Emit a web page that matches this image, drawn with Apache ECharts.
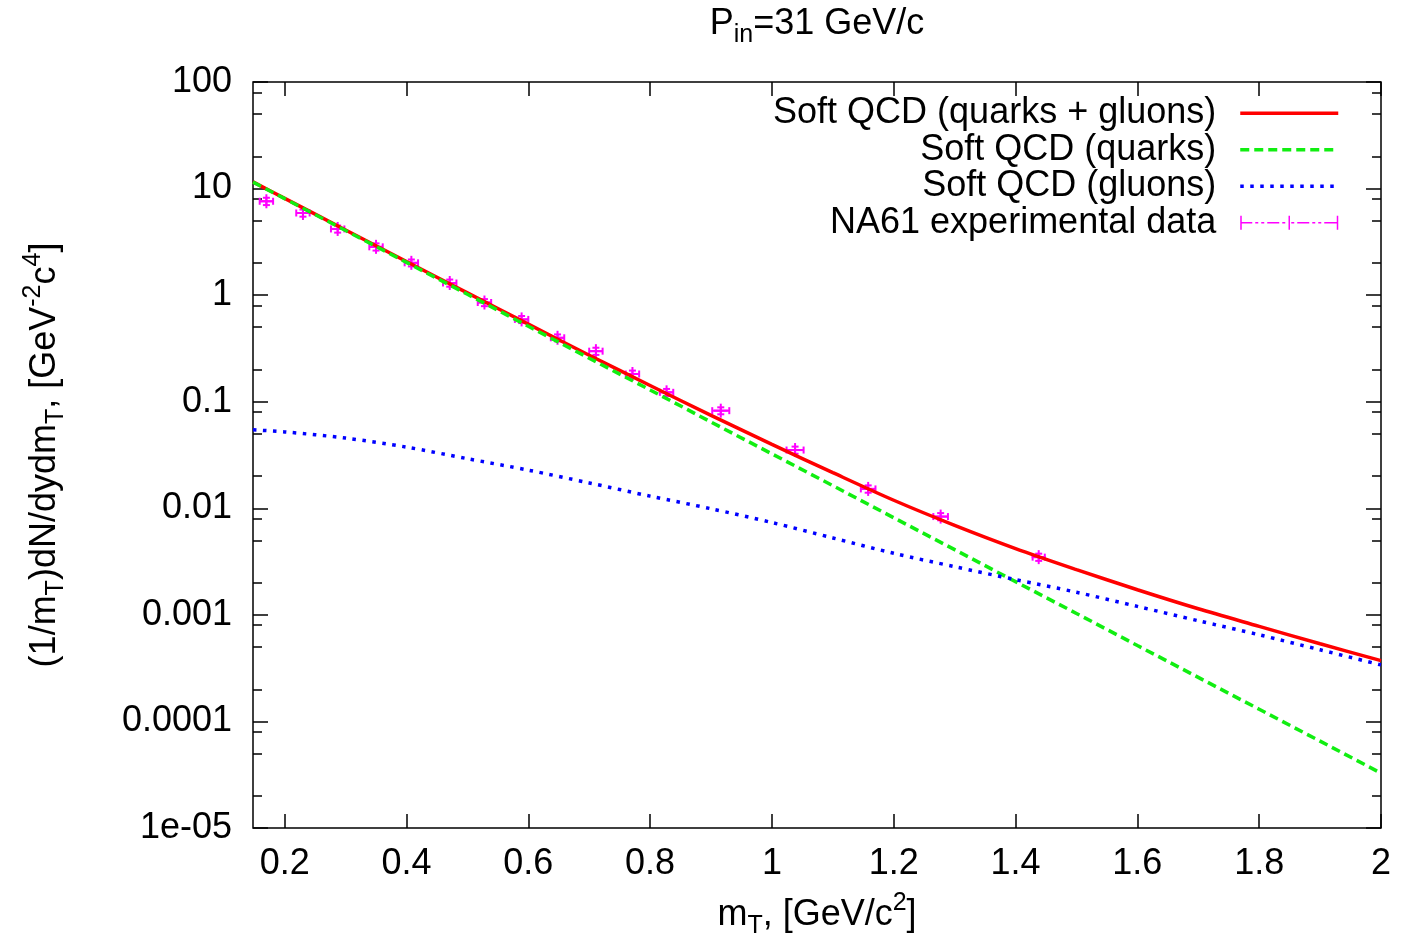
<!DOCTYPE html>
<html lang="en">
<head>
    <meta charset="UTF-8">
    <title>Soft QCD spectrum, P_in = 31 GeV/c</title>
    <script src="https://cdn.jsdelivr.net/npm/echarts@6.0.0/dist/echarts.min.js"></script>
    <style>
        html, body { margin: 0; padding: 0; background: #fff; }
        #chart { width: 1401px; height: 940px; }
    </style>
</head>
<body>
<div id="chart"></div>

<script>
    var mtGrid = [0.148, 0.2, 0.3, 0.4, 0.5, 0.6, 0.7, 0.8, 0.9, 1.0, 1.1, 1.2, 1.3, 1.4, 1.5, 1.6, 1.7, 1.8, 1.9, 2.0];
    var sumVals = [11.55, 8.10, 4.09, 2.07, 1.05, 0.534, 0.273, 0.142, 0.0744, 0.0398, 0.0216, 0.0119,
        0.00692, 0.00419, 0.00266, 0.00172, 0.00114, 0.00078, 0.000535, 0.000372];
    var quarkVals = [11.5, 8.05, 4.04, 2.03, 1.02, 0.511, 0.256, 0.129, 0.0645, 0.0324, 0.0163, 0.00815,
        0.00409, 0.00205, 0.00103, 0.000516, 0.000259, 0.000130, 0.0000653, 0.0000327];
    var gluonVals = [0.0545, 0.0521, 0.0456, 0.0375, 0.0292, 0.0228, 0.0173, 0.0130, 0.0099, 0.00735, 0.00527, 0.00378,
        0.00283, 0.00214, 0.00163, 0.00120, 0.00088, 0.00065, 0.00047, 0.000339];

    // NA61 points: m_T, value, m_T error, value error
    var dataMt = [0.170, 0.230, 0.287, 0.350, 0.408, 0.471, 0.528, 0.589, 0.648, 0.711, 0.771, 0.827, 0.916, 1.038, 1.158, 1.277, 1.438];
    var dataVal = [7.6, 5.9, 4.18, 2.84, 2.01, 1.30, 0.853, 0.592, 0.398, 0.298, 0.182, 0.1225, 0.0824, 0.0352, 0.0152, 0.00836, 0.00348];
    var dataMtErr = [0.011, 0.011, 0.011, 0.011, 0.011, 0.011, 0.011, 0.011, 0.011, 0.011, 0.011, 0.011, 0.014, 0.014, 0.012, 0.012, 0.010];
    var dataValErr = [0.6, 0.45, 0.32, 0.22, 0.15, 0.10, 0.065, 0.045, 0.030, 0.023, 0.014, 0.0093, 0.0062, 0.0027, 0.0012, 0.00065, 0.00027];

    var xTicks = [0.2, 0.4, 0.6, 0.8, 1.0, 1.2, 1.4, 1.6, 1.8, 2.0];
    var xTickLabels = ['0.2', '0.4', '0.6', '0.8', '1', '1.2', '1.4', '1.6', '1.8', '2'];
    var yTicks = [1e-5, 1e-4, 1e-3, 1e-2, 0.1, 1, 10, 100];
    var yTickLabels = ['1e-05', '0.0001', '0.001', '0.01', '0.1', '1', '10', '100'];
    var yMinorTicks = [2e-5, 5e-5, 8e-5, 2e-4, 5e-4, 8e-4, 2e-3, 5e-3, 8e-3, 0.02, 0.05, 0.08,
        0.2, 0.5, 0.8, 2, 5, 8, 20, 50, 80];

    var names = ['Soft QCD (quarks + gluons)', 'Soft QCD (quarks)', 'Soft QCD (gluons)', 'NA61 experimental data'];

    var FONT = "'Liberation Sans', Arial, sans-serif";

    function pick(list, labels, v, useLog) {
        for (var i = 0; i < list.length; i++) {
            var d = useLog ? Math.abs(Math.log10(list[i]) - Math.log10(v)) : Math.abs(list[i] - v);
            if (d < 1e-3) return labels[i];
        }
        return '';
    }

    function pairs(xs, ys) {
        return xs.map(function (x, i) { return [x, ys[i]]; });
    }

    // gnuplot style xyerrorbars: both bars with caps plus a "+" at the centre
    function renderErrorBar(params, api) {
        var x = api.value(0), y = api.value(1), ex = api.value(2), ey = api.value(3);
        var c = api.coord([x, y]);
        var l = api.coord([x - ex, y]);
        var r = api.coord([x + ex, y]);
        var t = api.coord([x, y + ey]);
        var b = api.coord([x, y - ey]);
        var cap = 3.5, arm = 7;
        function seg(x1, y1, x2, y2) {
            return { type: 'line', shape: { x1: x1, y1: y1, x2: x2, y2: y2 },
                     style: { stroke: '#ff00ff', lineWidth: 2 } };
        }
        return {
            type: 'group',
            children: [
                seg(l[0], c[1], r[0], c[1]),
                seg(l[0], c[1] - cap, l[0], c[1] + cap),
                seg(r[0], c[1] - cap, r[0], c[1] + cap),
                seg(c[0], t[1], c[0], b[1]),
                seg(c[0] - cap, t[1], c[0] + cap, t[1]),
                seg(c[0] - cap, b[1], c[0] + cap, b[1]),
                seg(c[0] - arm, c[1], c[0] + arm, c[1]),
                seg(c[0], c[1] - arm, c[0], c[1] + arm)
            ]
        };
    }

    var richParts = {
        sub: { fontSize: 25, lineHeight: 25, verticalAlign: 'bottom', fontFamily: FONT, color: '#000' },
        sup: { fontSize: 25, lineHeight: 25, verticalAlign: 'top', fontFamily: FONT, color: '#000' }
    };
    var nameStyle = { fontSize: 36, lineHeight: 48, color: '#000', fontFamily: FONT, rich: richParts };

    var tickLine = { color: '#000', width: 1.5 };
    var xMin = 0.148, xMax = 2, yMin = 1e-5, yMax = 100;

    function yAxisDef(pos, ticks, len, labelled) {
        var ax = {
            type: 'log', logBase: 10, min: yMin, max: yMax, position: pos,
            axisLine: { show: false },
            splitLine: { show: false },
            axisTick: { inside: true, length: len, customValues: ticks, lineStyle: tickLine },
            axisLabel: { show: false }
        };
        if (labelled) {
            ax.axisLabel = {
                show: true, customValues: yTicks, margin: 21, fontSize: 36, color: '#000', fontFamily: FONT,
                formatter: function (v) { return pick(yTicks, yTickLabels, v, true); }
            };
            ax.name = '(1/m{sub|T})dN/dydm{sub|T}, [GeV{sup|-2}c{sup|4}]';
            ax.nameLocation = 'middle';
            ax.nameRotate = 90;
            ax.nameGap = 184;
            ax.nameTextStyle = nameStyle;
        }
        return ax;
    }

    // line entries: hide the dot that the line legend icon draws in its middle
    var lineLegend = { itemStyle: { opacity: 0 }, lineStyle: { width: 3.5 } };

    var option = {
        animation: false,
        backgroundColor: '#fff',
        grid: {
            left: 253, right: 20, top: 82, bottom: 112,
            outerBoundsMode: 'none',
            show: true, borderColor: '#000', borderWidth: 1.5, backgroundColor: 'transparent'
        },
        legend: {
            orient: 'vertical',
            right: 56, top: 90,
            align: 'right',
            itemWidth: 98, itemHeight: 14, itemGap: 0,
            textStyle: { fontSize: 36, lineHeight: 36.5, color: '#000', fontFamily: FONT, padding: [0, 19, 0, 0] },
            data: [
                Object.assign({ name: names[0] }, lineLegend),
                Object.assign({ name: names[1] }, lineLegend),
                Object.assign({ name: names[2] }, lineLegend),
                {
                    name: names[3],
                    icon: 'path://M0,0h1.5v14h-1.5z M96.5,0h1.5v14h-1.5z M48.25,0h1.5v14h-1.5z ' +
                          'M0,6.25h12v1.5h-12z M15,6.25h3v1.5h-3z M21,6.25h3v1.5h-3z M27,6.25h12v1.5h-12z ' +
                          'M42,6.25h3v1.5h-3z M51,6.25h3v1.5h-3z M57,6.25h12v1.5h-12z M72,6.25h3v1.5h-3z ' +
                          'M78,6.25h3v1.5h-3z M84,6.25h12.5v1.5h-12.5z'
                }
            ]
        },
        xAxis: [
            {
                type: 'value', min: xMin, max: xMax, position: 'bottom',
                axisLine: { show: false },
                splitLine: { show: false },
                axisTick: { inside: true, length: 14, customValues: xTicks, lineStyle: tickLine },
                axisLabel: {
                    customValues: xTicks, margin: 18, fontSize: 36, color: '#000', fontFamily: FONT,
                    formatter: function (v) { return pick(xTicks, xTickLabels, v, false); }
                },
                name: 'm{sub|T}, [GeV/c{sup|2}]',
                nameLocation: 'middle',
                nameGap: 63,
                nameTextStyle: nameStyle
            },
            {
                type: 'value', min: xMin, max: xMax, position: 'top',
                axisLine: { show: false },
                splitLine: { show: false },
                axisTick: { inside: true, length: 14, customValues: xTicks, lineStyle: tickLine },
                axisLabel: { show: false },
                name: 'P{sub|in}=31 GeV/c',
                nameLocation: 'middle',
                nameGap: 34,
                nameTextStyle: nameStyle
            }
        ],
        yAxis: [
            yAxisDef('left', yTicks, 15, true),
            yAxisDef('left', yMinorTicks, 9, false),
            yAxisDef('right', yTicks, 15, false),
            yAxisDef('right', yMinorTicks, 9, false)
        ],
        series: [
            {
                name: names[0], type: 'line', symbol: 'none', smooth: 0.3,
                data: pairs(mtGrid, sumVals),
                lineStyle: { color: '#ff0000', width: 3.5 },
                itemStyle: { color: '#ff0000' }
            },
            {
                name: names[1], type: 'line', symbol: 'none',
                data: pairs(mtGrid, quarkVals),
                lineStyle: { color: '#11ee11', width: 3.5, type: [9, 5] },
                itemStyle: { color: '#11ee11' }
            },
            {
                name: names[2], type: 'line', symbol: 'none', smooth: 0.3,
                data: pairs(mtGrid, gluonVals),
                lineStyle: { color: '#0000ff', width: 3.5, type: [3.5, 6.5] },
                itemStyle: { color: '#0000ff' }
            },
            {
                name: names[3], type: 'custom',
                renderItem: renderErrorBar,
                itemStyle: { color: '#ff00ff' },
                encode: { x: 0, y: 1 },
                data: dataMt.map(function (m, i) { return [m, dataVal[i], dataMtErr[i], dataValErr[i]]; })
            }
        ]
    };

    var chart = echarts.init(document.getElementById('chart'));
    chart.setOption(option);
</script>
</body>
</html>
